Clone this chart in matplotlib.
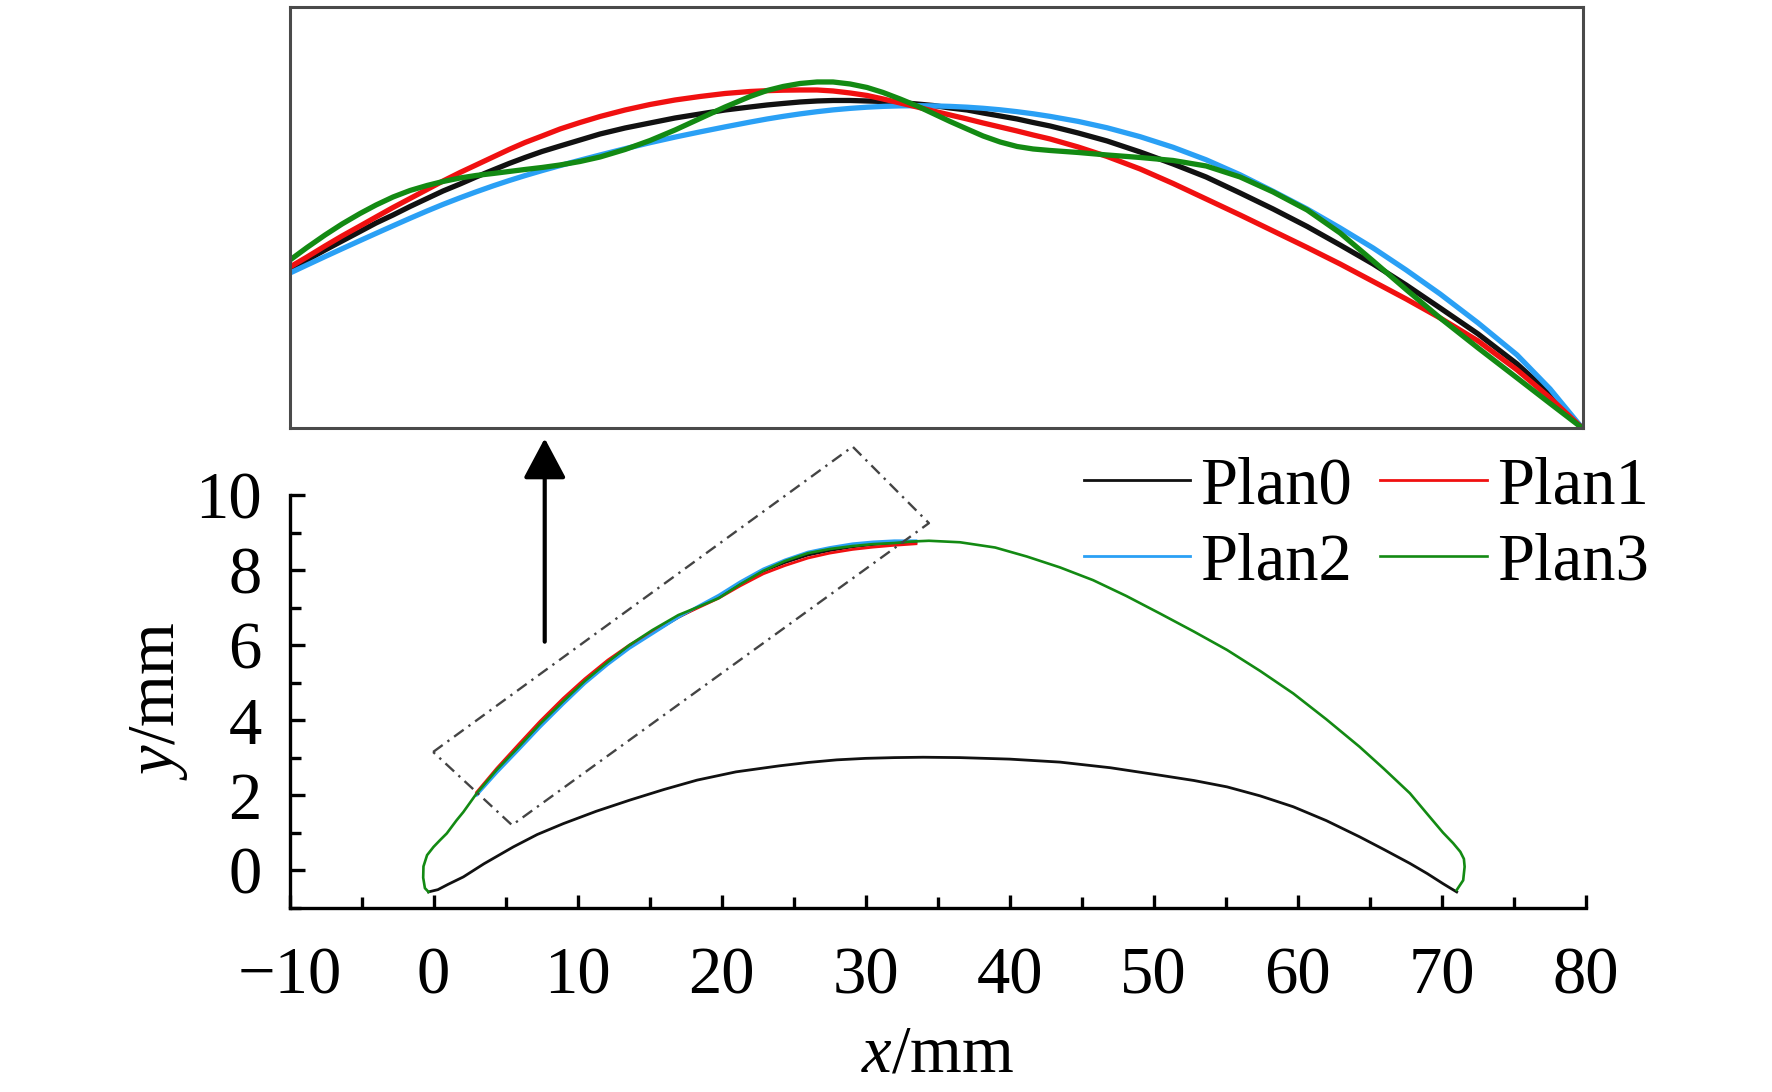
import matplotlib
matplotlib.use("Agg")
import matplotlib.pyplot as plt
from matplotlib.ticker import MultipleLocator

plt.rcParams["font.family"] = ["Liberation Serif", "DejaVu Serif"]
plt.rcParams["mathtext.fontset"] = "custom"
plt.rcParams["mathtext.rm"] = "Liberation Serif"
plt.rcParams["mathtext.it"] = "Liberation Serif:italic"

# ---- data (mm) ----
# pressure side, shared by every plan
lower_x = [-0.35, 0.3, 1.0, 2.07, 3.5, 5.54, 7.2, 9.01, 11.3, 13.65, 16.0, 18.3,
           21.0, 24.0, 26.0, 28.0, 30.0, 32.0, 34.0, 36.56, 40.0, 43.5, 47.0,
           50.45, 52.8, 55.1, 57.4, 59.7, 62.0, 64.3, 66.0, 67.8, 69.0, 70.1,
           70.7, 71.05]
lower_y = [-0.58, -0.52, -0.38, -0.18, 0.17, 0.62, 0.95, 1.24, 1.57, 1.87, 2.15,
           2.40, 2.62, 2.78, 2.87, 2.94, 2.98, 3.00, 3.01, 3.00, 2.96, 2.88, 2.73,
           2.53, 2.39, 2.22, 1.98, 1.69, 1.32, 0.89, 0.55, 0.18, -0.09, -0.36,
           -0.50, -0.58]

# suction side, Plan3 drawn over the whole profile
upper_x = [-0.35, -0.6, -0.72, -0.7, -0.45, 0.0, 0.45, 0.92, 1.21, 1.6, 2.07,
           3.0, 4.4, 5.9, 7.4, 9.0, 10.5, 12.1, 13.6, 15.2, 17.0, 18.4, 19.8,
           21.3, 22.9, 24.4, 26.0, 27.5, 29.1, 30.5, 32.0, 33.2, 34.4, 36.56,
           39.0, 41.2, 43.5, 45.8, 48.1, 50.45, 52.8, 55.1, 57.4, 59.7, 62.0,
           64.3, 66.0, 67.8, 69.0, 70.1, 70.8, 71.3, 71.55, 71.6, 71.5, 71.05]
upper_y = [-0.58, -0.48, -0.2, 0.1, 0.4, 0.62, 0.80, 0.98, 1.13, 1.33, 1.55,
           2.05, 2.68, 3.28, 3.90, 4.50, 5.04, 5.55, 6.00, 6.40, 6.80, 7.02, 7.25,
           7.62, 7.98, 8.24, 8.45, 8.56, 8.64, 8.69, 8.72, 8.76, 8.78, 8.74,
           8.60, 8.36, 8.07, 7.73, 7.31, 6.84, 6.36, 5.87, 5.31, 4.71, 4.02,
           3.29, 2.70, 2.05, 1.50, 1.00, 0.72, 0.49, 0.30, 0.09, -0.27, -0.53]

# modified part of the suction side
mod_x = [3.0, 4.4, 5.9, 7.4, 9.0, 10.5, 12.1, 13.6, 15.2, 17.0, 18.4, 19.8,
         21.3, 22.9, 24.4, 26.0, 27.5, 29.1, 30.5, 32.0, 33.5]
plan0_y = [2.04, 2.66, 3.27, 3.88, 4.49, 5.03, 5.54, 5.96, 6.33, 6.74, 7.02,
           7.29, 7.64, 7.97, 8.20, 8.40, 8.52, 8.62, 8.68, 8.72, 8.74]
plan1_y = [2.08, 2.72, 3.35, 3.97, 4.58, 5.10, 5.60, 6.00, 6.36, 6.75, 7.00,
           7.25, 7.58, 7.90, 8.12, 8.32, 8.45, 8.55, 8.61, 8.66, 8.70]
plan2_y = [2.00, 2.60, 3.20, 3.81, 4.42, 4.97, 5.48, 5.91, 6.30, 6.74, 7.04,
           7.33, 7.69, 8.03, 8.27, 8.48, 8.60, 8.70, 8.75, 8.78, 8.78]

# dashed zoom window
box_x = [-0.03, 29.1, 34.4, 5.45, -0.03]
box_y = [3.15, 11.29, 9.25, 1.20, 3.15]

# enlarged view (inset, relative units along / across the window)
zoom_pos = [0, 17, 35, 52, 70, 86, 103, 120, 137, 153, 170, 186, 203, 219, 235,
            252, 270, 290, 310, 335, 360, 385, 410, 435, 460, 477, 493, 510, 527,
            543, 560, 577, 593, 610, 627, 643, 660, 677, 693, 710, 727, 743, 760,
            788, 817, 850, 883, 916, 950, 983, 1017, 1050, 1083, 1116, 1150, 1188,
            1227, 1260, 1292]
zoom_plan0 = [158, 168, 178, 187, 196.5, 205, 213, 221.5, 229.5, 237,
              244, 251, 258, 264.5, 270.5, 276.5, 282, 288, 294, 300,
              305, 310, 314, 318, 321, 323, 324.5, 326, 327, 327.5,
              327.5, 327, 326.5, 325.5, 324, 322.5, 320, 318, 315, 312,
              309, 305.5, 302, 295, 287, 276, 264, 251, 235, 219,
              201.5, 183, 164, 143, 120, 94, 64, 34, 0]
zoom_plan1 = [161, 171, 182, 192, 202, 211, 220.5, 229.5, 238.5, 247,
              255.5, 263, 271, 278.5, 285.5, 292, 299, 305.5, 311.5, 318,
              323.5, 328, 331.5, 334.5, 336.5, 337.3, 337.8, 338, 338, 337,
              335, 332.5, 329, 325, 321, 317, 313, 309, 305, 301,
              297, 293, 289, 281, 271.5, 259, 244.5, 229, 213, 197,
              180.5, 164, 146.5, 129, 110, 87, 58, 30, 0]
zoom_plan2 = [155, 163, 171.4, 179.2, 187.4, 194.6, 202.2, 209.7, 217, 223.6,
              230.2, 236.1, 242.1, 247.4, 252.4, 257.4, 262.4, 267.8, 273, 279.3,
              285.3, 290.9, 296.1, 301.1, 305.9, 309, 311.6, 314.1, 316.3, 318.1,
              319.6, 320.8, 321.6, 322.1, 322.3, 322.1, 321.6, 320.8, 319.7, 318.2,
              316.3, 314.2, 311.6, 306.6, 300.2, 291.3, 280.7, 268.2, 253.2, 236.7,
              219, 200, 180, 158, 134, 105, 73, 39, 0]
zoom_plan3 = [168, 180.5, 193, 204, 214.5, 223, 231, 237.5, 242.5, 246.5,
              250, 252.5, 254.5, 256.5, 258.5, 260.5, 263, 266.5, 271, 278.5,
              287.5, 298, 309.5, 321, 331.5, 337.5, 341.5, 344.5, 346, 346,
              344, 340.5, 335.5, 329, 322, 314.5, 306.5, 299, 292, 286,
              281.5, 279, 277.5, 275.5, 273, 270.5, 267.5, 262, 251, 236,
              218, 195, 167, 138.5, 110, 80, 50, 24.5, 0]

labels = ["Plan0", "Plan1", "Plan2", "Plan3"]
colors = ["#111111", "#f01010", "#2aa0f5", "#138a13"]

fig = plt.figure(figsize=(17.72, 10.92), dpi=100)
ax = fig.add_axes([0.1634, 0.1688, 0.7314, 0.3779])

ax.plot(lower_x, lower_y, color=colors[0], lw=2.0)
l0, = ax.plot(mod_x, plan0_y, color=colors[0], lw=2.0)
l1, = ax.plot(mod_x, plan1_y, color=colors[1], lw=2.0)
l2, = ax.plot(mod_x, plan2_y, color=colors[2], lw=2.0)
l3, = ax.plot(upper_x, upper_y, color=colors[3], lw=1.9)

ax.plot(box_x, box_y, color="#444444", lw=1.7, ls=(0, (5, 2.5, 1, 2.5)),
        clip_on=False)
ax.annotate("", xy=(7.72, 11.51), xytext=(7.72, 6.09),
            arrowprops=dict(arrowstyle="-|>,head_length=0.62,head_width=0.33",
                            mutation_scale=40, lw=3, color="black",
                            shrinkA=0, shrinkB=0),
            annotation_clip=False)

ax.set_xlim(-10, 80)
ax.set_ylim(-1, 10)
ax.xaxis.set_major_locator(MultipleLocator(10))
ax.xaxis.set_minor_locator(MultipleLocator(5))
ax.yaxis.set_major_locator(MultipleLocator(2))
ax.yaxis.set_minor_locator(MultipleLocator(1))
for s in ["top", "right"]:
    ax.spines[s].set_visible(False)
for s in ["left", "bottom"]:
    ax.spines[s].set_linewidth(2.4)
ax.tick_params(which="both", direction="in", width=2.4, labelsize=48)
ax.tick_params(axis="x", which="major", length=9.5, pad=28)
ax.tick_params(axis="x", which="minor", length=8)
ax.tick_params(axis="y", which="major", length=11, pad=20)
ax.tick_params(axis="y", which="minor", length=8)
ax.set_xlabel("$x$/mm", fontsize=48, labelpad=12)
ax.set_ylabel("$y$/mm", fontsize=48, labelpad=4)

ax.legend([l0, l2, l1, l3], [labels[0], labels[2], labels[1], labels[3]],
          ncol=2, frameon=False, fontsize=48, loc="upper left",
          bbox_to_anchor=(0.6116, 0.582), bbox_transform=fig.transFigure,
          borderpad=0, borderaxespad=0, handlelength=1.6, handletextpad=0.15,
          columnspacing=0.42, labelspacing=0.23)

# enlarged inset
axin = fig.add_axes([0.1637, 0.6081, 0.7297, 0.3855])
axin.plot(zoom_pos, zoom_plan0, color=colors[0], lw=3.8)
axin.plot(zoom_pos, zoom_plan2, color=colors[2], lw=3.8)
axin.plot(zoom_pos, zoom_plan1, color=colors[1], lw=3.8)
axin.plot(zoom_pos, zoom_plan3, color=colors[3], lw=3.8)
axin.set_xlim(0, 1293)
axin.set_ylim(0, 421)
axin.set_xticks([])
axin.set_yticks([])
for s in axin.spines.values():
    s.set_color("#4a4a4a")
    s.set_linewidth(2.2)

fig.savefig("out.png", dpi=100)
